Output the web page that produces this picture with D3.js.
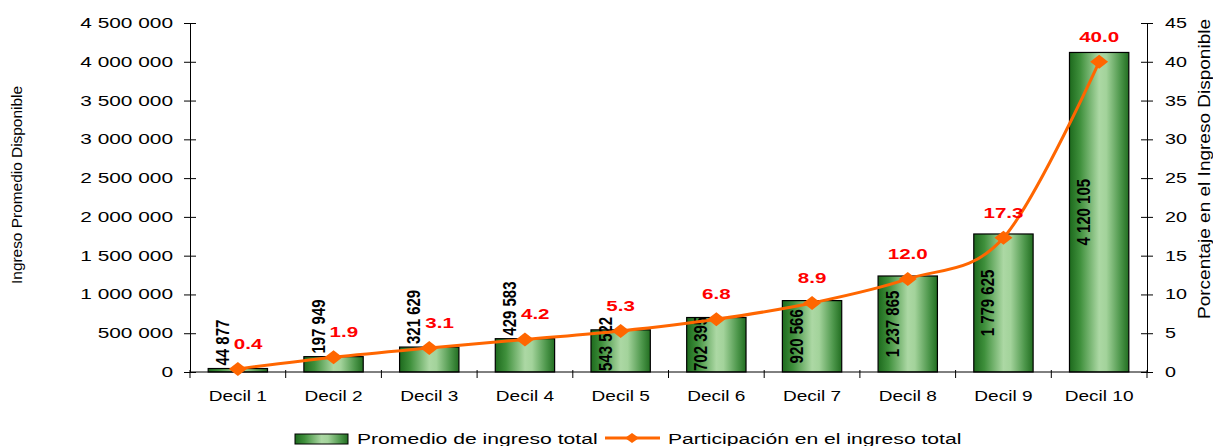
<!DOCTYPE html>
<html>
<head>
<meta charset="utf-8">
<script src="https://cdn.jsdelivr.net/npm/d3@7"></script>
<style>
  body { margin: 0; background: #fff; }
  text { font-family: Arial, "Liberation Sans", sans-serif; }
</style>
</head>
<body>
<div id="chart"></div>
<script>
const width = 1213;
const height = 446;

const categories = ["Decil 1", "Decil 2", "Decil 3", "Decil 4", "Decil 5", "Decil 6", "Decil 7", "Decil 8", "Decil 9", "Decil 10"];
const ingreso = [44877, 197949, 321629, 429583, 543522, 702395, 920566, 1237865, 1779625, 4120105];
const participacion = [0.4, 1.9, 3.1, 4.2, 5.3, 6.8, 8.9, 12.0, 17.3, 40.0];
const leftTicks = [0, 500000, 1000000, 1500000, 2000000, 2500000, 3000000, 3500000, 4000000, 4500000];
const rightTicks = [0, 5, 10, 15, 20, 25, 30, 35, 40, 45];

const plot = { left: 190, right: 1147, top: 23, bottom: 372 };
const orange = "#FF6600";

const locale = d3.formatLocale({ decimal: ".", thousands: " ", grouping: [3], currency: ["", ""] });
const fmtInt = locale.format(",");
const fmtPct = d3.format(".1f");

const svg = d3.select("#chart")
  .append("svg")
  .attr("width", width)
  .attr("height", height);

const x = d3.scaleBand()
  .domain(categories)
  .range([plot.left, plot.right])
  .paddingInner(0.38)
  .paddingOuter(0.19);

const yLeft = d3.scaleLinear()
  .domain([0, d3.max(leftTicks)])
  .range([plot.bottom, plot.top]);

const yRight = d3.scaleLinear()
  .domain([0, d3.max(rightTicks)])
  .range([plot.bottom, plot.top]);

const cxOf = i => x(categories[i]) + x.bandwidth() / 2;

// bar gradient (dark edges, light centre)
const defs = svg.append("defs");
const grad = defs.append("linearGradient")
  .attr("id", "barGrad")
  .attr("x1", "0%").attr("x2", "100%").attr("y1", "0%").attr("y2", "0%");
[["0%", "#1d6a1d"], ["18%", "#3f903c"], ["50%", "#acd8a4"], ["62%", "#a3d39b"], ["86%", "#4c964a"], ["100%", "#226e21"]]
  .forEach(s => grad.append("stop").attr("offset", s[0]).attr("stop-color", s[1]));

// bars
svg.selectAll("rect.bar")
  .data(categories)
  .enter()
  .append("rect")
  .attr("class", "bar")
  .attr("x", d => x(d))
  .attr("y", (d, i) => yLeft(ingreso[i]))
  .attr("width", x.bandwidth())
  .attr("height", (d, i) => plot.bottom - yLeft(ingreso[i]))
  .style("fill", "url(#barGrad)")
  .style("stroke", "#000")
  .style("stroke-width", 1.2);

// axes
const leftAxis = svg.append("g")
  .attr("transform", `translate(${plot.left},0)`)
  .call(d3.axisLeft(yLeft).tickValues(leftTicks).tickFormat(fmtInt).tickSizeInner(6).tickSizeOuter(0));
leftAxis.selectAll(".tick line").attr("x1", 6);
leftAxis.selectAll(".tick text")
  .attr("x", -17 / 1.49)
  .attr("transform", "scale(1.49,1)")
  .style("font-size", "14px")
  .style("fill", "#000");

const rightAxis = svg.append("g")
  .attr("transform", `translate(${plot.right},0)`)
  .call(d3.axisRight(yRight).tickValues(rightTicks).tickSizeInner(6).tickSizeOuter(0));
rightAxis.selectAll(".tick line").attr("x1", -6);
rightAxis.selectAll(".tick text")
  .attr("x", 18 / 1.41)
  .attr("transform", "scale(1.41,1)")
  .style("font-size", "14px")
  .style("fill", "#000");

svg.selectAll(".domain, .tick line").style("stroke", "#000");

// category axis
svg.append("line")
  .attr("x1", plot.left).attr("x2", plot.right)
  .attr("y1", plot.bottom).attr("y2", plot.bottom)
  .style("stroke", "#000");

svg.selectAll("line.xtick")
  .data(d3.range(categories.length + 1))
  .enter()
  .append("line")
  .attr("class", "xtick")
  .attr("x1", i => plot.left + i * x.step())
  .attr("x2", i => plot.left + i * x.step())
  .attr("y1", plot.bottom - 2)
  .attr("y2", plot.bottom + 6)
  .style("stroke", "#000");

svg.selectAll("text.cat")
  .data(categories)
  .enter()
  .append("text")
  .attr("class", "cat")
  .attr("transform", d => `translate(${x(d) + x.bandwidth() / 2},401) scale(1.36,1)`)
  .attr("text-anchor", "middle")
  .style("font-size", "14px")
  .text(d => d);

// bar value labels (rotated, glyphs a bit wide like the original)
const valBoxes = [];
svg.selectAll("text.val")
  .data(categories)
  .enter()
  .append("text")
  .attr("class", "val")
  .style("font-size", "15px")
  .style("font-weight", "bold")
  .attr("text-anchor", "middle")
  .text((d, i) => fmtInt(ingreso[i]))
  .each(function(d, i) {
    const len = this.getComputedTextLength();
    const bx = cxOf(i) - 9;
    const top = yLeft(ingreso[i]);
    let cy;
    if (ingreso[i] < 500000) {
      cy = top - 3 - len / 2;
    } else {
      cy = Math.min((top + plot.bottom) / 2, plot.bottom - 1 - len / 2);
    }
    d3.select(this).attr("transform", `translate(${bx},${cy}) rotate(-90) scale(1,1.2)`);
    valBoxes.push({ x0: bx - 13, x1: bx + 2, y0: cy - len / 2, y1: cy + len / 2 });
  });

// participation line
const line = d3.line()
  .x((d, i) => cxOf(i))
  .y(d => yRight(d))
  .curve(d3.curveCatmullRom.alpha(0));

svg.append("path")
  .datum(participacion)
  .attr("d", line)
  .style("fill", "none")
  .style("stroke", orange)
  .style("stroke-width", 3);

const diamond = (w, h) => `M0,${-h}L${w},0L0,${h}L${-w},0Z`;

svg.selectAll("path.marker")
  .data(participacion)
  .enter()
  .append("path")
  .attr("class", "marker")
  .attr("d", diamond(9, 7))
  .attr("transform", (d, i) => `translate(${cxOf(i)},${yRight(d)})`)
  .style("fill", orange);

// percentage labels above the points, pushed right when they hit a value label
svg.selectAll("text.pct")
  .data(participacion)
  .enter()
  .append("text")
  .attr("class", "pct")
  .attr("text-anchor", "middle")
  .style("font-size", "15px")
  .style("font-weight", "bold")
  .style("fill", "#FF0000")
  .text(d => fmtPct(d))
  .each(function(d, i) {
    const w = this.getComputedTextLength() * 1.37;
    const by = yRight(d) - 20;
    let lx = cxOf(i);
    const vb = valBoxes[i];
    const hitsY = by > vb.y0 && by - 11 < vb.y1;
    if (hitsY && lx - w / 2 < vb.x1 + 3) lx = vb.x1 + 3 + w / 2;
    d3.select(this).attr("transform", `translate(${lx},${by}) scale(1.37,1)`);
  });

// axis titles
svg.append("text")
  .attr("transform", "translate(22,185) rotate(-90)")
  .attr("text-anchor", "middle")
  .attr("textLength", 198)
  .attr("lengthAdjust", "spacingAndGlyphs")
  .style("font-size", "14px")
  .text("Ingreso Promedio Disponible");

svg.append("text")
  .attr("transform", "translate(1210,169) rotate(-90)")
  .attr("text-anchor", "middle")
  .attr("textLength", 300)
  .attr("lengthAdjust", "spacingAndGlyphs")
  .style("font-size", "16px")
  .text("Porcentaje en el Ingreso Disponible");

// legend
const legend = svg.append("g");
legend.append("rect")
  .attr("x", 295).attr("y", 434)
  .attr("width", 53).attr("height", 10)
  .style("fill", "url(#barGrad)")
  .style("stroke", "#000")
  .style("stroke-width", 1);
legend.append("text")
  .attr("transform", "translate(357,444) scale(1.51,1)")
  .style("font-size", "14px")
  .text("Promedio de ingreso total");
legend.append("line")
  .attr("x1", 605).attr("x2", 660)
  .attr("y1", 438).attr("y2", 438)
  .style("stroke", orange)
  .style("stroke-width", 3);
legend.append("path")
  .attr("d", diamond(7, 5))
  .attr("transform", "translate(632,438)")
  .style("fill", orange);
legend.append("text")
  .attr("transform", "translate(668,444) scale(1.51,1)")
  .style("font-size", "14px")
  .text("Participación en el ingreso total");
</script>
</body>
</html>
